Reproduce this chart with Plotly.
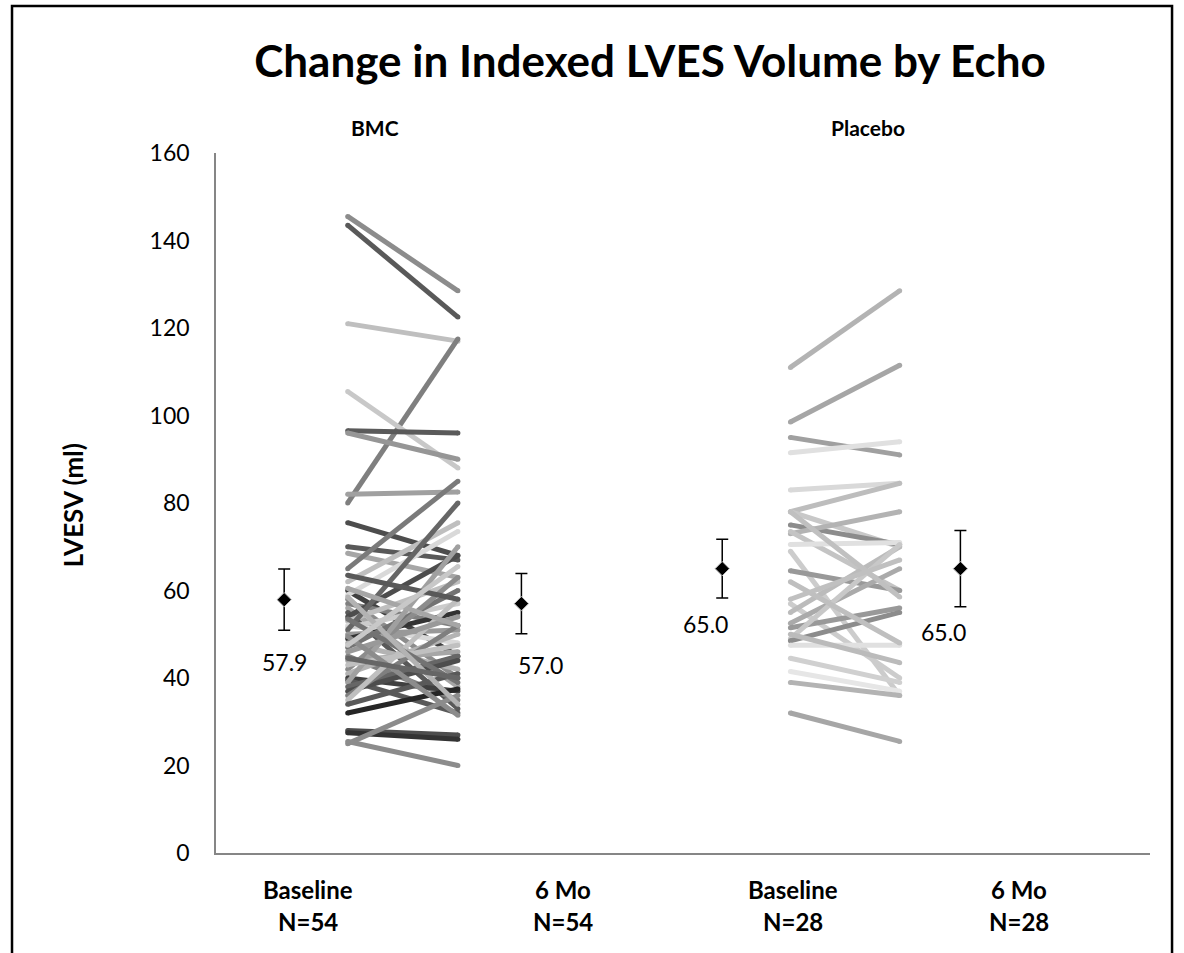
import plotly.graph_objects as go

# ---- data -------------------------------------------------------------
groups = ["BMC", "Placebo"]
category_top = ["Baseline", "6 Mo", "Baseline", "6 Mo"]
category_bottom = ["N=54", "N=54", "N=28", "N=28"]

# BMC patients: baseline and 6-month LVESV (ml)
bmc_baseline = [145.5, 143.5, 121, 80, 105.5, 96.5, 96, 82, 75.5, 70, 68.5, 65, 62, 60,
                59, 58, 57, 56, 55, 54, 53, 52, 51.5, 51, 50, 49, 48, 47, 45, 44, 42,
                41, 40, 39.5, 39, 38, 37, 36, 35, 34, 32, 28, 27.5, 25, 25.5, 46, 43,
                53.5, 60.5, 63.5, 58.5, 49.5, 47.5, 44.5]
bmc_6mo = [128.5, 122.5, 117, 117.5, 88, 96, 90, 82.5, 68, 67, 63, 85, 75.5, 45,
           73.5, 40, 52, 38, 33, 68, 62, 48, 57, 80, 51, 55, 42, 60, 35, 46, 63,
           50, 37, 32, 70, 45, 44, 52, 58, 41, 37.5, 27, 26, 36, 20, 54, 47.5,
           39, 52, 58, 34, 31.5, 65.5, 40]
bmc_shades = ["#8c8c8c", "#595959", "#bfbfbf", "#7f7f7f", "#c8c8c8", "#5a5a5a", "#969696",
              "#a0a0a0", "#4d4d4d", "#595959", "#a6a6a6", "#7a7a7a", "#bfbfbf", "#404040",
              "#d9d9d9", "#8c8c8c", "#808080", "#a6a6a6", "#595959", "#4d4d4d", "#bfbfbf",
              "#d9d9d9", "#cccccc", "#666666", "#999999", "#333333", "#b3b3b3", "#737373",
              "#808080", "#a6a6a6", "#8c8c8c", "#b3b3b3", "#404040", "#595959", "#a0a0a0",
              "#666666", "#4d4d4d", "#7f7f7f", "#bfbfbf", "#595959", "#262626", "#4d4d4d",
              "#333333", "#8c8c8c", "#8c8c8c", "#999999", "#c0c0c0", "#737373", "#a6a6a6",
              "#595959", "#b3b3b3", "#8c8c8c", "#c8c8c8", "#666666"]

# Placebo patients: baseline and 6-month LVESV (ml)
pla_baseline = [111, 98.5, 95, 91.5, 83, 78, 78, 75, 73, 73.5, 70.5, 69, 64.5, 57, 55,
                52.5, 51.5, 49, 48.5, 47.5, 44.5, 41.5, 39, 32, 78, 62, 58, 50]
pla_6mo = [128.5, 111.5, 91, 94, 84.5, 84.5, 70, 70.5, 78, 60, 71, 36, 60, 40, 70,
           65, 56, 70.5, 55, 47.5, 39, 37, 36, 25.5, 58.5, 48, 67, 43.5]
pla_shades = ["#b3b3b3", "#a6a6a6", "#a0a0a0", "#e0e0e0", "#d9d9d9", "#bdbdbd", "#c8c8c8",
              "#8c8c8c", "#b3b3b3", "#c4c4c4", "#e0e0e0", "#cccccc", "#999999", "#cccccc",
              "#bbbbbb", "#aaaaaa", "#999999", "#c8c8c8", "#8c8c8c", "#e0e0e0", "#d0d0d0",
              "#e6e6e6", "#b3b3b3", "#a6a6a6", "#c0c0c0", "#bfbfbf", "#c0c0c0", "#bbbbbb"]

# Group means with error bar extents
means = [57.9, 57.0, 65.0, 65.0]
err_plus = [7.0, 6.9, 6.7, 8.7]
err_minus = [7.0, 6.9, 6.7, 8.7]
mean_labels = ["57.9", "57.0", "65.0", "65.0"]

# ---- layout positions (x axis runs 0..10) ------------------------------
BMC_X = (1.41, 2.59)
PLA_X = (6.15, 7.32)
MEAN_X = [0.73, 3.27, 5.42, 7.97]
LABEL_X = [0.985, 3.715, 6.178, 8.597]
MEAN_LABEL_DX = [0.0, 0.2, -0.18, -0.18]
MEAN_LABEL_DY = [-14.2, -14.0, -12.7, -14.5]

FONT = "Lato"


def add_pair_lines(x_pair, before, after, shades):
    """One line per patient; small end dots give the strokes rounded ends."""
    for b, m, c in zip(before, after, shades):
        fig.add_trace(go.Scatter(x=list(x_pair), y=[b, m], mode="lines+markers",
                                 line=dict(color=c, width=5),
                                 marker=dict(color=c, size=5, line=dict(width=0)),
                                 hoverinfo="skip", showlegend=False))


fig = go.Figure()
add_pair_lines(BMC_X, bmc_baseline, bmc_6mo, bmc_shades)
add_pair_lines(PLA_X, pla_baseline, pla_6mo, pla_shades)

fig.add_trace(go.Scatter(
    x=MEAN_X, y=means, mode="markers",
    marker=dict(symbol="diamond", size=11, color="black",
                line=dict(color="#bdbdbd", width=1)),
    error_y=dict(type="data", array=err_plus, arrayminus=err_minus,
                 color="black", thickness=1.5, width=6),
    showlegend=False, hoverinfo="skip"))

annotations = []
for x, yv, txt, dx, dy in zip(MEAN_X, means, mean_labels, MEAN_LABEL_DX, MEAN_LABEL_DY):
    annotations.append(dict(x=x + dx, y=yv + dy, xref="x", yref="y", text=txt,
                            showarrow=False, xanchor="center", yanchor="middle",
                            font=dict(family=FONT, size=23, color="black")))

for x, top, bottom in zip(LABEL_X, category_top, category_bottom):
    annotations.append(dict(x=x, y=-0.052, xref="x", yref="paper", text="<b>%s</b>" % top,
                            showarrow=False, xanchor="center", yanchor="middle",
                            font=dict(family=FONT, size=24, color="black")))
    annotations.append(dict(x=x, y=-0.098, xref="x", yref="paper", text="<b>%s</b>" % bottom,
                            showarrow=False, xanchor="center", yanchor="middle",
                            font=dict(family=FONT, size=24, color="black")))

for x, name in zip([0.170, 0.698], groups):
    annotations.append(dict(x=x, y=1.037, xref="paper", yref="paper", text="<b>%s</b>" % name,
                            showarrow=False, xanchor="center", yanchor="middle",
                            font=dict(family=FONT, size=21, color="black")))

annotations.append(dict(x=-0.153, y=0.497, xref="paper", yref="paper",
                        text="<b>LVESV (ml)</b>", textangle=-90, showarrow=False,
                        xanchor="center", yanchor="middle",
                        font=dict(family=FONT, size=26, color="black")))

fig.update_layout(
    width=1184, height=953,
    margin=dict(l=216, r=34, t=153, b=100),
    paper_bgcolor="white", plot_bgcolor="white",
    title=dict(text="<b>Change in Indexed LVES Volume by Echo</b>",
               x=650 / 1184, xanchor="center", y=1 - 62 / 953, yanchor="middle",
               font=dict(family=FONT, size=44, color="black")),
    xaxis=dict(range=[0, 10], showgrid=False, zeroline=False, showticklabels=False,
               showline=True, linecolor="#868686", linewidth=1.5, ticks=""),
    yaxis=dict(range=[0, 160], tickvals=list(range(0, 161, 20)), showgrid=False,
               zeroline=False, showline=True, linecolor="#868686", linewidth=1.5,
               ticks="", ticklabelstandoff=20,
               tickfont=dict(family=FONT, size=23, color="black")),
    annotations=annotations,
    shapes=[dict(type="rect", xref="paper", yref="paper",
                 x0=-0.2184, x1=1.0236, y0=-0.16, y1=1.21,
                 line=dict(color="black", width=2.5), fillcolor="rgba(0,0,0,0)")],
)

fig.write_html("out.html")
